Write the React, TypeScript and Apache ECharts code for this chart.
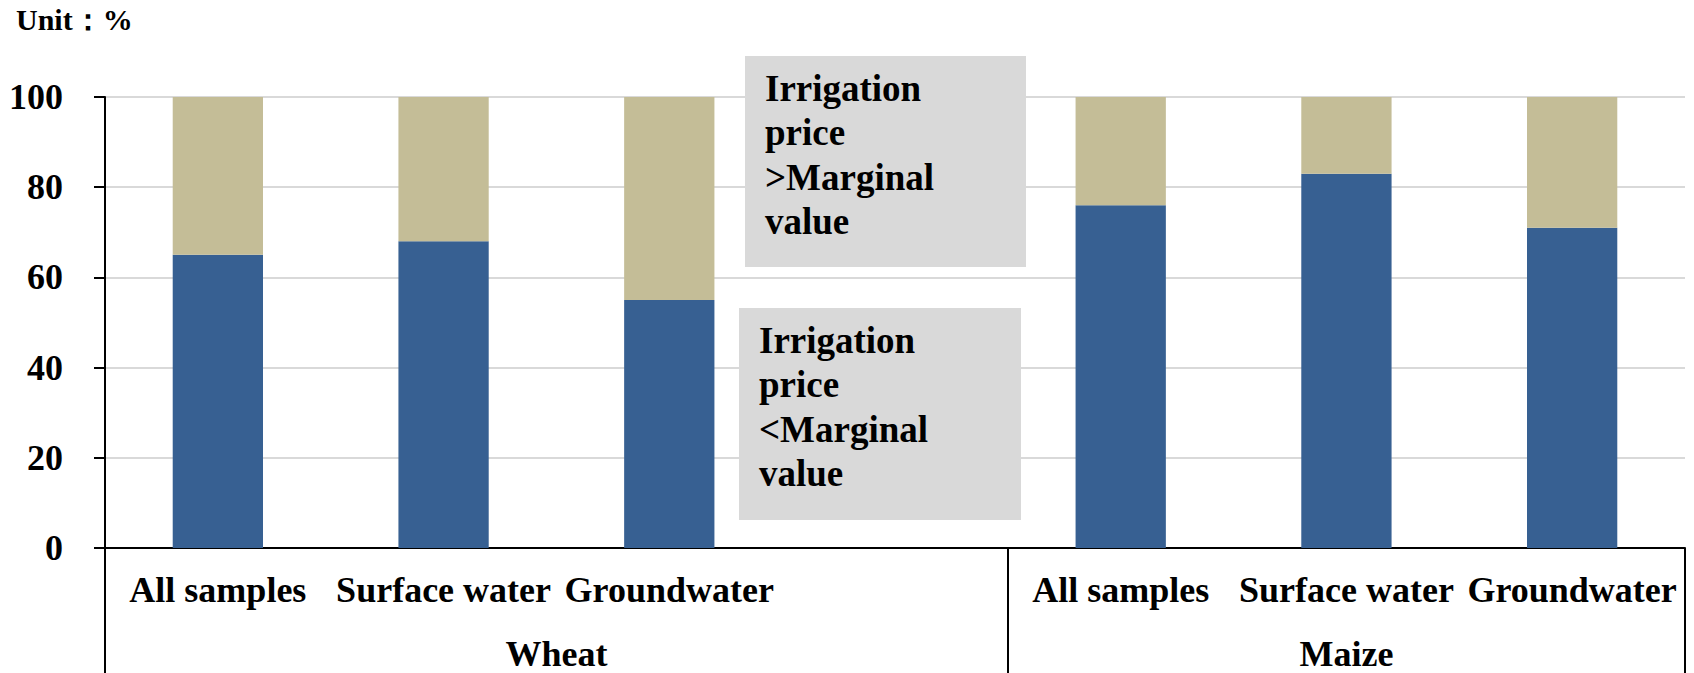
import React, { useEffect, useRef } from "react";
import * as echarts from "echarts";

const FONT = "Liberation Serif";

// Inner-level categories (4th slot of Wheat is an empty spacer slot)
const categories = ["All samples", "Surface water", "Groundwater", "", "All samples", "Surface water", "Groundwater"];
// Share with irrigation price < marginal value (%)
const belowValues: (number | null)[] = [65, 68, 55, null, 76, 83, 71];
// Share with irrigation price > marginal value (%)
const aboveValues: (number | null)[] = [35, 32, 45, null, 24, 17, 29];
// Outer-level groups and their centre positions / boundaries on the category index scale
const groups = ["Wheat", "Maize"];
const groupCentres = [1.5, 5];
const groupBounds = [-0.5, 3.5, 6.5];
const yTicks = { min: 0, max: 100, interval: 20 };
const unitLabel = "Unit：%";
const aboveNote = "Irrigation\nprice\n>Marginal\nvalue";
const belowNote = "Irrigation\nprice\n<Marginal\nvalue";

export default function App() {
  const ref = useRef<HTMLDivElement>(null);
  useEffect(() => {
    if (!ref.current) return;
    const chart = echarts.init(ref.current, undefined, { renderer: "svg" });
    const labelStyle = { fontFamily: FONT, fontWeight: "bold" as const, color: "#000" };
    chart.setOption({
      animation: false,
      title: {
        text: unitLabel,
        left: 16,
        top: 4,
        padding: 0,
        textStyle: { ...labelStyle, fontSize: 30 },
      },
      grid: { left: 105, right: 9, top: 97, bottom: 125 },
      xAxis: [
        {
          type: "category",
          data: categories,
          axisLine: { onZero: false, lineStyle: { color: "#000", width: 2 } },
          axisTick: { show: false },
          axisLabel: { ...labelStyle, interval: 0, fontSize: 36, margin: 24 },
          splitLine: { show: false },
        },
        {
          type: "value",
          min: -0.5,
          max: 6.5,
          position: "bottom",
          axisLine: { show: false, onZero: false },
          splitLine: { show: false },
          axisTick: {
            show: true,
            customValues: groupBounds,
            length: 125,
            lineStyle: { color: "#000", width: 2 },
          },
          axisLabel: {
            ...labelStyle,
            fontSize: 36,
            margin: 88,
            customValues: groupCentres,
            formatter: (v: number) => {
              const i = groupCentres.indexOf(v);
              return i >= 0 ? groups[i] : "";
            },
          },
        },
      ],
      yAxis: {
        type: "value",
        min: yTicks.min,
        max: yTicks.max,
        interval: yTicks.interval,
        position: "left",
        axisLine: { show: true, onZero: false, lineStyle: { color: "#000", width: 2 } },
        axisTick: { show: true, length: 11, lineStyle: { color: "#000", width: 2 } },
        splitLine: { lineStyle: { color: "#D9D9D9", width: 2 } },
        axisLabel: { ...labelStyle, fontSize: 36, margin: 42 },
      },
      series: [
        {
          name: "Irrigation price < Marginal value",
          type: "bar",
          stack: "total",
          data: belowValues,
          barWidth: "40%",
          itemStyle: { color: "#376092" },
        },
        {
          name: "Irrigation price > Marginal value",
          type: "bar",
          stack: "total",
          data: aboveValues,
          barWidth: "40%",
          itemStyle: { color: "#C4BD97" },
        },
      ],
      graphic: [
        { type: "rect", shape: { x: 745, y: 56, width: 281, height: 211 }, style: { fill: "#D9D9D9" }, z: 10 },
        {
          type: "text",
          x: 765,
          y: 66,
          z: 11,
          style: {
            text: aboveNote,
            fontFamily: FONT,
            fontWeight: "bold",
            fontSize: 37,
            lineHeight: 44.5,
            fill: "#000",
            verticalAlign: "top",
          },
        },
        { type: "rect", shape: { x: 739, y: 308, width: 282, height: 212 }, style: { fill: "#D9D9D9" }, z: 10 },
        {
          type: "text",
          x: 759,
          y: 318,
          z: 11,
          style: {
            text: belowNote,
            fontFamily: FONT,
            fontWeight: "bold",
            fontSize: 37,
            lineHeight: 44.5,
            fill: "#000",
            verticalAlign: "top",
          },
        },
      ],
    });
    return () => chart.dispose();
  }, []);
  return (
    <div
      ref={ref}
      style={{ position: "absolute", left: 0, top: 0, width: 1694, height: 673, background: "#fff" }}
    />
  );
}
